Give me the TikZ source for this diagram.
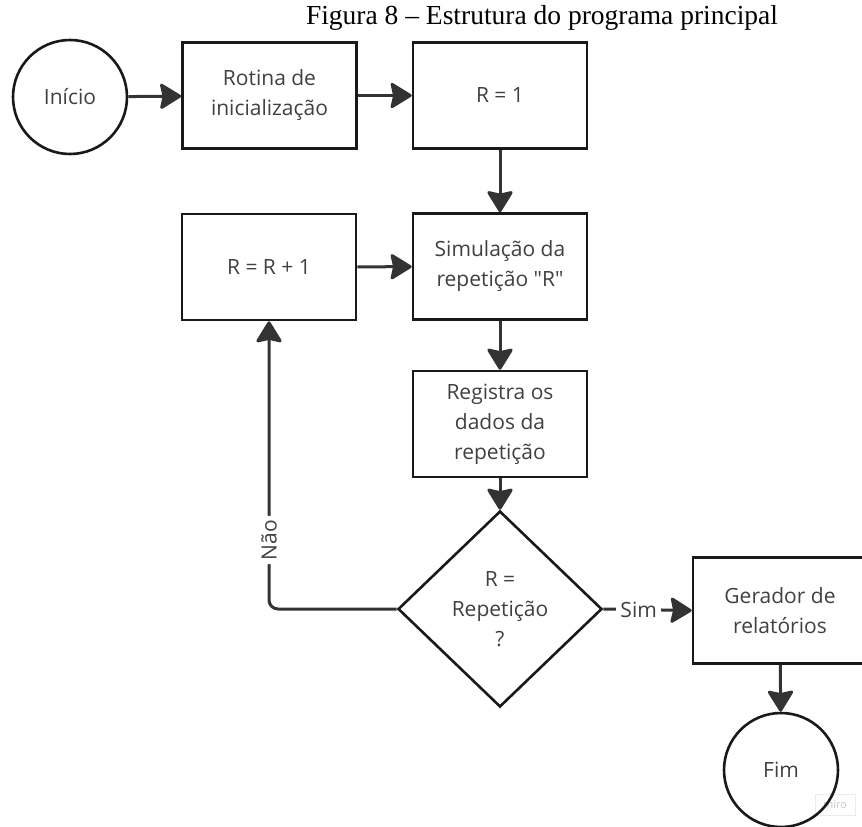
\documentclass[tikz,border=0pt]{standalone}
\usepackage{fontspec}
\newfontfamily\caixafont{Open Sans}
\newfontfamily\titulofont{Liberation Serif}
\usetikzlibrary{shapes.geometric,arrows.meta}
\definecolor{cinzalinha}{HTML}{333333}
\definecolor{cinzatexto}{HTML}{404040}
\begin{document}
\begin{tikzpicture}[x=1pt,y=-1pt,
		caixa/.style={draw=black!90, line width=2.6pt, minimum width=174pt, minimum height=106pt, align=center, text=cinzatexto, font=\caixafont\fontsize{21}{30}\selectfont},
		terminal/.style={circle, draw=black!90, line width=2.6pt, minimum size=114pt, inner sep=0pt, text=cinzatexto, font=\caixafont\fontsize{21}{30}\selectfont},
		decisao/.style={diamond, draw=black!90, line width=2.6pt, minimum width=204pt, minimum height=196pt, inner sep=0pt, align=center, text=cinzatexto, font=\caixafont\fontsize{21}{30}\selectfont},
		seta/.style={draw=cinzalinha, line width=3pt, -{Stealth[length=23pt, width=28pt, inset=3pt, round]}},
		rotulo/.style={fill=white, inner sep=4pt, text=cinzatexto, font=\caixafont\fontsize{21}{22}\selectfont}
	]
		\useasboundingbox (0,0) rectangle (862,827);

		\node[font=\titulofont\fontsize{27.5}{30}\selectfont, anchor=base] (titulo) at (542,24) {Figura 8 – Estrutura do programa principal};

		\node[terminal] (inicio) at (70,97) {Início};
		\node[caixa] (rotina) at (269.5,95.5) {Rotina de\\inicialização};
		\node[caixa] (rum) at (500,95.5) {R = 1};
		\node[caixa] (rmais) at (269,267) {R = R + 1};
		\node[caixa] (simula) at (500,266.5) {Simulação da\\repetição "R"};
		\node[caixa] (registra) at (500,424) {Registra os\\dados da\\repetição};
		\node[decisao] (repeticao) at (500,609) {R =\\Repetição\\?};
		\node[caixa] (gerador) at (780,610.5) {Gerador de\\relatórios};

		\node[draw=black!8, fill=white, text=black!22, font=\caixafont\fontsize{11}{12}\selectfont, minimum width=40pt, minimum height=21pt, inner sep=0pt] (miro) at (835,805) {miro};
		\node[terminal] (fim) at (781,770) {Fim};

		\draw[seta] (inicio) -- (rotina);
		\draw[seta] (rotina) -- (rum);
		\draw[seta] (rum) -- (simula);
		\draw[seta] (rmais) -- (simula);
		\draw[seta] (simula) -- (registra);
		\draw[seta] (registra) -- (repeticao);
		\draw[seta, rounded corners=9pt] (repeticao.west) -| node[rotulo, pos=0.62, rotate=90] {Não} (rmais.south);
		\draw[seta] (repeticao.east) -- node[rotulo, pos=0.4] {Sim} (gerador.west);
		\draw[seta] (gerador) -- (fim);
	\end{tikzpicture}
\end{document}
